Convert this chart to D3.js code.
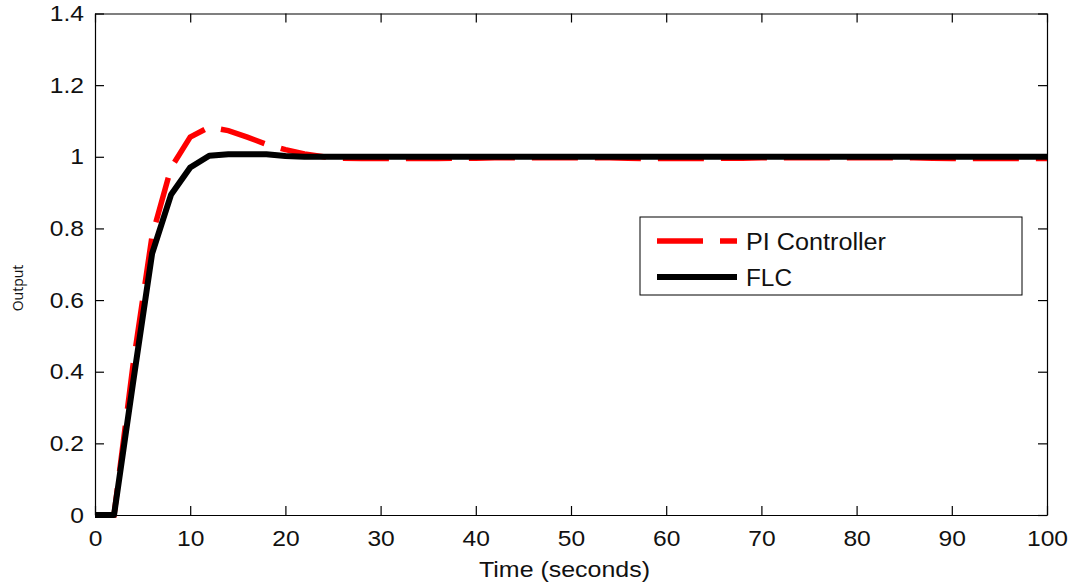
<!DOCTYPE html>
<html>
<head>
<meta charset="utf-8">
<script src="https://cdn.jsdelivr.net/npm/d3@7/dist/d3.min.js"></script>
<style>
  html, body { margin: 0; padding: 0; background: #fff; }
  svg { display: block; }
  .tick text { font-family: "Liberation Sans", Arial, sans-serif; font-size: 22px; fill: #111; }
</style>
</head>
<body>
<svg id="chart" width="1076" height="588"></svg>
<script>
// ---- data ----
const time = [0, 2, 4, 6, 8, 10, 12, 14, 16, 18, 20, 22, 24, 26, 28, 30, 32, 34, 36, 38, 40,
  42, 44, 46, 48, 50, 52, 54, 56, 58, 60, 62, 64, 66, 68, 70, 72, 74, 76, 78, 80,
  82, 84, 86, 88, 90, 92, 94, 96, 98, 100];
const piController = [0, 0, 0.42, 0.78, 0.97, 1.055, 1.083, 1.073, 1.055, 1.035, 1.02, 1.008, 1.0, 0.996, 0.995, 0.995, 0.995, 0.995, 0.995, 0.996, 0.996,
  0.997, 0.997, 0.997, 0.997, 0.997, 0.997, 0.997, 0.996, 0.995, 0.995, 0.995, 0.995, 0.996, 0.996, 0.997, 0.997, 0.997, 0.997, 0.997, 0.997,
  0.997, 0.997, 0.997, 0.996, 0.995, 0.995, 0.995, 0.995, 0.995, 0.995];
const flc = [0, 0, 0.37, 0.73, 0.895, 0.97, 1.003, 1.007, 1.007, 1.007, 1.002, 1.0, 1.0, 1.0, 1.0, 1.0, 1.0, 1.0, 1.0, 1.0, 1.0,
  1.0, 1.0, 1.0, 1.0, 1.0, 1.0, 1.0, 1.0, 1.0, 1.0, 1.0, 1.0, 1.0, 1.0, 1.0, 1.0, 1.0, 1.0, 1.0, 1.0,
  1.0, 1.0, 1.0, 1.0, 1.0, 1.0, 1.0, 1.0, 1.0, 1.0];
const xTicks = [0, 10, 20, 30, 40, 50, 60, 70, 80, 90, 100];
const yTicks = [0, 0.2, 0.4, 0.6, 0.8, 1, 1.2, 1.4];
const seriesNames = ["PI Controller", "FLC"];

// ---- layout ----
const svg = d3.select("#chart");
const plotL = 95, plotR = 1047, plotT = 13.5, plotB = 515;

const x = d3.scaleLinear().domain([0, 100]).range([plotL, plotR]);
const y = d3.scaleLinear().domain([0, 1.4]).range([plotB, plotT]);

// axes with inward ticks
const gx = svg.append("g").attr("transform", `translate(0,${plotB})`)
  .call(d3.axisBottom(x).tickValues(xTicks).tickFormat(d3.format("d")).tickSizeInner(-9).tickSizeOuter(0).tickPadding(15));
const gy = svg.append("g").attr("transform", `translate(${plotL},0)`)
  .call(d3.axisLeft(y).tickValues(yTicks).tickFormat(d => d === 0 || d === 1 ? String(d) : d3.format(".1f")(d)).tickSizeInner(-9).tickSizeOuter(0).tickPadding(11));
const gxt = svg.append("g").attr("transform", `translate(0,${plotT})`)
  .call(d3.axisTop(x).tickValues(xTicks).tickFormat("").tickSizeInner(-9).tickSizeOuter(0));
const gyr = svg.append("g").attr("transform", `translate(${plotR},0)`)
  .call(d3.axisRight(y).tickValues(yTicks).tickFormat("").tickSizeInner(-9).tickSizeOuter(0));

[gx, gy, gxt, gyr].forEach(g => {
  g.select(".domain").attr("stroke", "#000").attr("stroke-width", 1.2);
  g.selectAll(".tick line").attr("stroke", "#000").attr("stroke-width", 1.2);
});
// reference glyphs are slightly wider than tall
gx.selectAll(".tick text").attr("transform", "scale(1.12,1)");
gy.selectAll(".tick text").attr("transform", "scale(1.12,1)").attr("x", -11 / 1.12);

// ---- lines ----
const lineGen = (vals) => d3.line().x((d, i) => x(time[i])).y(d => y(d))(vals);

svg.append("path")
  .attr("d", lineGen(piController))
  .attr("fill", "none").attr("stroke", "#ff0000").attr("stroke-width", 5.5)
  .attr("stroke-dasharray", "46,17");

svg.append("path")
  .attr("d", lineGen(flc))
  .attr("fill", "none").attr("stroke", "#000").attr("stroke-width", 6)
  .attr("stroke-linejoin", "round");

// ---- axis titles ----
svg.append("text")
  .attr("x", 479).attr("y", 577)
  .attr("font-family", "Liberation Sans, Arial, sans-serif")
  .attr("font-size", 22).attr("fill", "#111")
  .attr("textLength", 171).attr("lengthAdjust", "spacingAndGlyphs")
  .text("Time (seconds)");

svg.append("text")
  .attr("transform", "translate(23,288) rotate(-90)")
  .attr("text-anchor", "middle")
  .attr("font-family", "Open Sans, sans-serif")
  .attr("font-size", 14).attr("fill", "#111")
  .text("Output");

// ---- legend ----
const lg = svg.append("g");
lg.append("rect")
  .attr("x", 640).attr("y", 217).attr("width", 382).attr("height", 78)
  .attr("fill", "#fff").attr("stroke", "#000").attr("stroke-width", 1);
const legendItems = [
  { name: seriesNames[0], color: "#ff0000", dash: "46,17", w: 5.5, yy: 241, len: 140 },
  { name: seriesNames[1], color: "#000", dash: null, w: 6, yy: 277, len: 46 }
];
legendItems.forEach(it => {
  lg.append("line")
    .attr("x1", 657).attr("x2", 737).attr("y1", it.yy).attr("y2", it.yy)
    .attr("stroke", it.color).attr("stroke-width", it.w)
    .attr("stroke-dasharray", it.dash);
  lg.append("text")
    .attr("x", 746).attr("y", it.yy + 8.5)
    .attr("font-family", "Liberation Sans, Arial, sans-serif")
    .attr("font-size", 23).attr("fill", "#111")
    .attr("textLength", it.len).attr("lengthAdjust", "spacingAndGlyphs")
    .text(it.name);
});
</script>
</body>
</html>
